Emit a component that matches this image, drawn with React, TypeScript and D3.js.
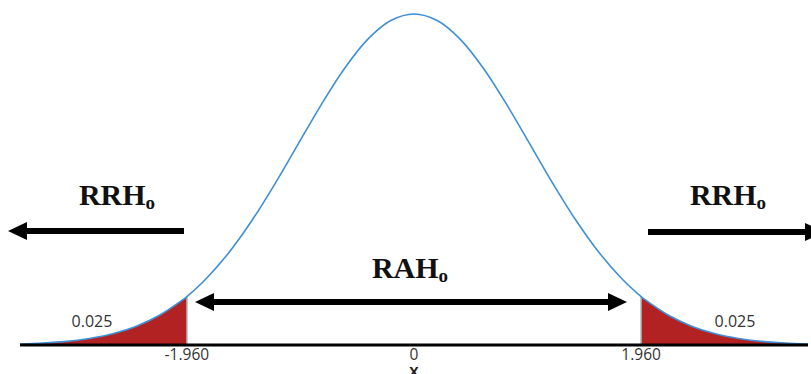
import React from "react";
import * as d3 from "d3";

// standard normal density
const zValues = [-3.4, -3.2, -3.0, -2.8, -2.6, -2.4, -2.2, -2.0, -1.96, -1.8, -1.6, -1.4, -1.2, -1.0, -0.8, -0.6, -0.4, -0.2, 0,
  0.2, 0.4, 0.6, 0.8, 1.0, 1.2, 1.4, 1.6, 1.8, 1.96, 2.0, 2.2, 2.4, 2.6, 2.8, 3.0, 3.2, 3.4];
const density = [0.0012, 0.0024, 0.0044, 0.0079, 0.0136, 0.0224, 0.0355, 0.054, 0.0584, 0.079, 0.1109, 0.1497, 0.1942, 0.242, 0.2897, 0.3332, 0.3683, 0.391, 0.3989,
  0.391, 0.3683, 0.3332, 0.2897, 0.242, 0.1942, 0.1497, 0.1109, 0.079, 0.0584, 0.054, 0.0355, 0.0224, 0.0136, 0.0079, 0.0044, 0.0024, 0.0012];
const critical = [-1.96, 1.96];
const tickValues = [-1.96, 0, 1.96];
const tickLabels = ["-1.960", "0", "1.960"];
const tailProb = ["0.025", "0.025"];

const W = 811;
const H = 374;

export default function App() {
  const x = d3.scaleLinear().domain([-3.4, 3.4]).range([20, 808]);
  const y = d3.scaleLinear().domain([0, 0.3989]).range([345, 14]);

  const pts = zValues.map((z, i) => ({ z, d: density[i] }));
  const line = d3.line<{ z: number; d: number }>()
    .x((p) => x(p.z))
    .y((p) => y(p.d))
    .curve(d3.curveCatmullRom);
  const area = d3.area<{ z: number; d: number }>()
    .x((p) => x(p.z))
    .y0(y(0))
    .y1((p) => y(p.d))
    .curve(d3.curveCatmullRom);

  const leftTail = pts.filter((p) => p.z <= critical[0]);
  const rightTail = pts.filter((p) => p.z >= critical[1]);
  const dAt = (z: number) => density[zValues.indexOf(z)];

  const arrowHead = (tip: number, dir: number, cy: number) =>
    `${tip},${cy} ${tip - dir * 19},${cy - 9} ${tip - dir * 19},${cy + 9}`;

  const bigLabel = (cx: number, base: number, main: string) => (
    <text x={cx} y={base} textAnchor="middle" fontFamily="Liberation Serif, Times New Roman, serif"
      fontWeight="bold" fontSize={30} fill="#111">
      {main}
      <tspan fontSize={19} dy={4}>o</tspan>
    </text>
  );

  return (
    <svg width={W} height={H} style={{ position: "absolute", left: 0, top: 0, background: "#fff" }}>
      <path d={area(leftTail) || ""} fill="#B22222" />
      <path d={area(rightTail) || ""} fill="#B22222" />
      {critical.map((c, i) => (
        <line key={i} x1={x(c)} x2={x(c)} y1={y(0)} y2={y(dAt(c))} stroke="#a8a8a8" strokeWidth={1.5} />
      ))}
      <path d={line(pts) || ""} fill="none" stroke="#3f8fd6" strokeWidth={1.6} />
      <line x1={x(-3.4)} x2={x(3.4)} y1={y(0)} y2={y(0)} stroke="#000" strokeWidth={3} />

      <g fontFamily="Open Sans, sans-serif" fontSize={15.5} fill="#333">
        {tickValues.map((t, i) => (
          <text key={i} x={x(t)} y={360} textAnchor="middle">{tickLabels[i]}</text>
        ))}
        <text x={x(0)} y={377} textAnchor="middle" fontWeight="bold" fontSize={14} fill="#222">X</text>
        <text x={92} y={327} textAnchor="middle" fontSize={16}>{tailProb[0]}</text>
        <text x={735} y={327} textAnchor="middle" fontSize={16}>{tailProb[1]}</text>
      </g>

      {/* left rejection arrow */}
      <line x1={184} x2={24} y1={231} y2={231} stroke="#000" strokeWidth={6} />
      <polygon points={arrowHead(8, -1, 231)} fill="#000" />
      {/* right rejection arrow */}
      <line x1={648} x2={808} y1={232} y2={232} stroke="#000" strokeWidth={6} />
      <polygon points={arrowHead(824, 1, 232)} fill="#000" />
      {/* acceptance region arrow */}
      <line x1={210} x2={612} y1={302} y2={302} stroke="#000" strokeWidth={6} />
      <polygon points={arrowHead(195, -1, 302)} fill="#000" />
      <polygon points={arrowHead(627, 1, 302)} fill="#000" />

      {bigLabel(117, 205, "RRH")}
      {bigLabel(728, 205, "RRH")}
      {bigLabel(410, 278, "RAH")}
    </svg>
  );
}
